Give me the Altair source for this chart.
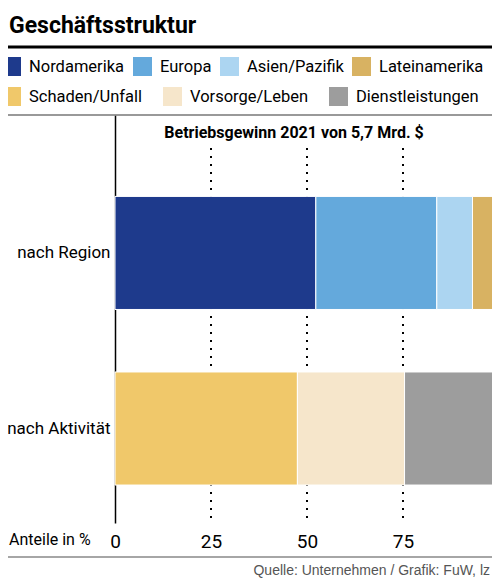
import pandas as pd
import altair as alt

FONT = "Roboto, sans-serif"

# Daten (Anteile in %)
regionen = ["Nordamerika", "Europa", "Asien/Pazifik", "Lateinamerika"]
region_anteile = [52.3, 31.5, 9.3, 6.9]
region_farben = ["#1e3a8c", "#64a9dc", "#acd5f1", "#d8b262"]
sparten = ["Schaden/Unfall", "Vorsorge/Leben", "Dienstleistungen"]
sparten_anteile = [47.5, 27.9, 24.6]
sparten_farben = ["#f0c86a", "#f6e6cb", "#9d9d9d"]
zeilen = ["nach Region", "nach Aktivität"]
ticks = [0, 25, 50, 75]

x_scale = alt.Scale(domain=[0, 100], nice=False)
x_enc = alt.X("anteil:Q", stack="zero", scale=x_scale,
              axis=alt.Axis(values=ticks, title=None, ticks=False, domain=False, grid=False,
                            labelFont=FONT, labelFontSize=19, labelColor="black",
                            labelPadding=9, labelFlush=False))
y_enc = alt.Y("zeile:N", sort=zeilen,
              scale=alt.Scale(domain=zeilen, paddingInner=0.356, paddingOuter=0.34, align=0.682),
              axis=alt.Axis(title=None, ticks=False, domainColor="black", domainWidth=1.5,
                            labelFont=FONT, labelFontSize=17, labelColor="black", labelPadding=5))


def balken(zeile, namen, werte, farben, legend_y, abstand):
    df = pd.DataFrame({"zeile": zeile, "segment": namen, "anteil": werte,
                       "pos": list(range(len(namen)))})
    return alt.Chart(df).mark_bar(stroke="white", strokeWidth=1).encode(
        x=x_enc, y=y_enc,
        color=alt.Color("segment:N", scale=alt.Scale(domain=namen, range=farben),
                        legend=alt.Legend(title=None, orient="none", legendX=-113, legendY=legend_y,
                                          direction="horizontal", symbolType="square",
                                          symbolSize=361, symbolStrokeWidth=0,
                                          labelFont=FONT, labelFontSize=16.5, labelColor="black",
                                          labelOffset=8, columnPadding=abstand)),
        order=alt.Order("pos:Q"),
    )


region = balken(zeilen[0], regionen, region_anteile, region_farben, -58, 8)
aktivitaet = balken(zeilen[1], sparten, sparten_anteile, sparten_farben, -28, 20)

grid = alt.Chart(pd.DataFrame({"wert": ticks[1:]})).mark_rule(
    color="black", strokeWidth=2, strokeDash=[2, 6]
).encode(x=alt.X("wert:Q", scale=x_scale), y=alt.value(33), y2=alt.value(405))


def text(s, x, y, **kw):
    return alt.Chart(pd.DataFrame({"t": [s]})).mark_text(**kw).encode(
        text="t:N", x=alt.value(x), y=alt.value(y))


def linie(y, farbe, breite):
    return alt.Chart(pd.DataFrame({"y": [0]})).mark_rule(color=farbe, strokeWidth=breite).encode(
        x=alt.value(-115), x2=alt.value(385), y=alt.value(y))


titel = text("Geschäftsstruktur", -106, -82, align="left", baseline="alphabetic",
             font=FONT, fontSize=23, fontWeight="bold", color="black")
untertitel = text("Betriebsgewinn 2021 von 5,7 Mrd. $", 179, 18, align="center",
                  baseline="middle", font=FONT, fontSize=16, fontWeight="bold", color="black")
achse = text("Anteile in %", -106, 425, align="left", baseline="middle",
             font=FONT, fontSize=16, color="black")
quelle = text("Quelle: Unternehmen / Grafik: FuW, lz", 375, 456, align="right",
              baseline="middle", font="Liberation Sans, sans-serif", fontSize=14, color="#555555")

chart = alt.layer(
    grid, region, aktivitaet,
    linie(-68, "black", 3), linie(0, "#777777", 1.5), linie(442, "#888888", 1.5),
    titel, untertitel, achse, quelle,
).resolve_scale(color="independent").properties(
    width=384, height=408, autosize=alt.AutoSizeParams(type="none"),
    padding={"left": 107, "top": 107, "right": -7, "bottom": 55},
    background="white",
).configure_view(stroke=None)

chart.save("out.html", embed_options={"renderer": "svg", "actions": False})
